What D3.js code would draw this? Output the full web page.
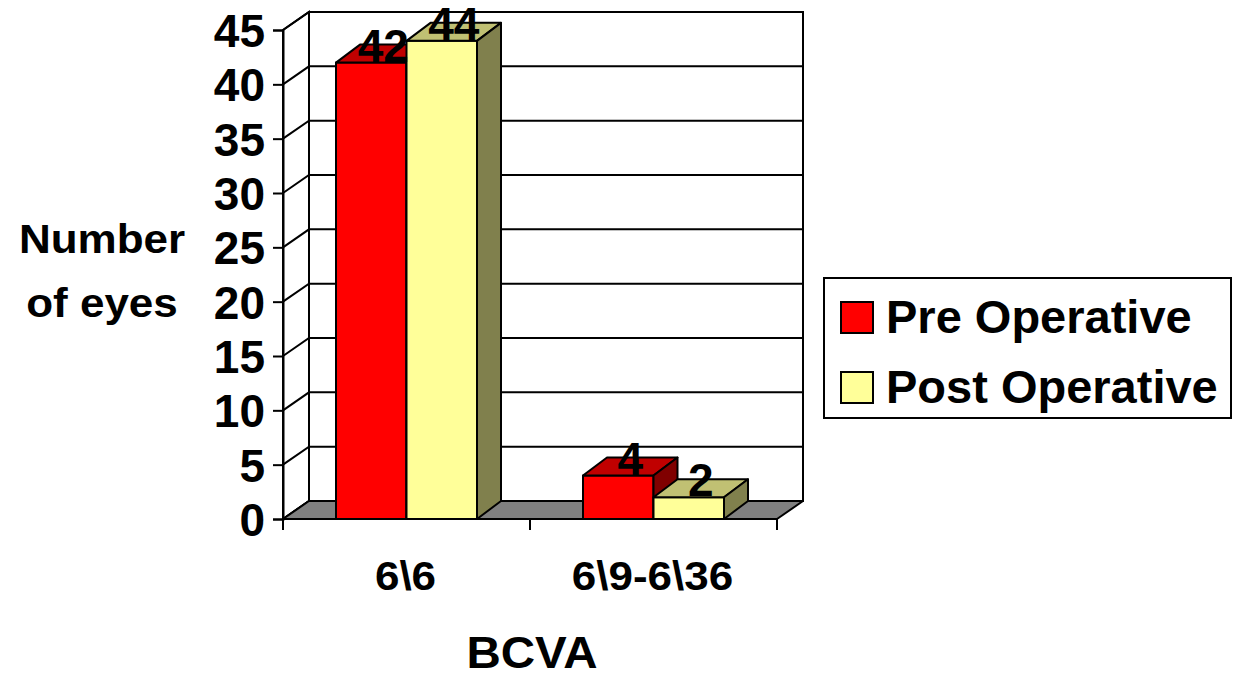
<!DOCTYPE html>
<html>
<head>
<meta charset="utf-8">
<script src="https://cdn.jsdelivr.net/npm/d3@7"></script>
<style>
  html, body { margin: 0; padding: 0; background: #fff; }
  svg { display: block; }
  text { font-family: "Liberation Sans", Arial, sans-serif; font-weight: bold; fill: #000; }
</style>
</head>
<body>
<svg id="chart" width="1233" height="677"></svg>
<script>
// BCVA categories and eye counts per series
const categories = ["6\\6", "6\\9-6\\36"];
const seriesNames = ["Pre Operative", "Post Operative"];
const preOperative = [42, 4];
const postOperative = [44, 2];
const yTicks = [0, 5, 10, 15, 20, 25, 30, 35, 40, 45];

const seriesValues = [preOperative, postOperative];
const palette = {
  "Pre Operative":  { front: "#ff0000", top: "#c00000", side: "#800000" },
  "Post Operative": { front: "#ffff99", top: "#c0c073", side: "#80804d" }
};

const svg = d3.select("#chart");

// plot frame (front plane) and depth offset of the 3D box
const left = 283, right = 777, bottom = 519, topY = 30;
const depth = { dx: 26, dy: -18 };
const barDepth = { dx: 24, dy: -18 };

const y = d3.scaleLinear().domain([0, 45]).range([bottom, topY]);
const x0 = d3.scaleBand().domain(categories).range([left, right]);
const gap = 53;
const x1 = d3.scaleBand().domain(seriesNames).range([gap, x0.bandwidth() - gap]);

const poly = pts => "M" + pts.map(p => p.join(",")).join("L") + "Z";

// walls
const walls = svg.append("g");
walls.append("path")
  .attr("d", poly([[left, y(0)], [left + depth.dx, y(0) + depth.dy], [left + depth.dx, y(45) + depth.dy], [left, y(45)]]))
  .attr("fill", "#fff").attr("stroke", "#000").attr("stroke-width", 2);
walls.append("rect")
  .attr("x", left + depth.dx).attr("y", y(45) + depth.dy)
  .attr("width", right - left).attr("height", y(0) - y(45))
  .attr("fill", "#fff").attr("stroke", "#000").attr("stroke-width", 2);

// gridlines along side wall and back wall
const grid = svg.append("g").attr("stroke", "#000").attr("stroke-width", 2).attr("fill", "none");
yTicks.forEach(t => {
  grid.append("path").attr("d", `M${left},${y(t)}L${left + depth.dx},${y(t) + depth.dy}L${right + depth.dx},${y(t) + depth.dy}`);
});

// floor
svg.append("path")
  .attr("d", poly([[left, y(0)], [right, y(0)], [right + depth.dx, y(0) + depth.dy], [left + depth.dx, y(0) + depth.dy]]))
  .attr("fill", "#808080").attr("stroke", "#000").attr("stroke-width", 2).attr("stroke-linejoin", "round");

// y axis
const yAxis = svg.append("g").attr("transform", `translate(${left},0)`)
  .call(d3.axisLeft(y).tickValues(yTicks).tickSize(10).tickPadding(8));
yAxis.select(".domain").attr("stroke", "#000").attr("stroke-width", 2);
yAxis.selectAll(".tick line").attr("stroke", "#000").attr("stroke-width", 2);
yAxis.selectAll(".tick text")
  .style("font-family", "'Liberation Sans', Arial, sans-serif")
  .style("font-weight", "bold")
  .attr("font-size", 46)
  .attr("fill", "#000")
  .attr("dy", "0.36em");

// x axis: ticks at category boundaries
const xAxisG = svg.append("g").attr("stroke", "#000").attr("stroke-width", 2);
xAxisG.append("line").attr("x1", left).attr("x2", right).attr("y1", bottom).attr("y2", bottom);
[left, ...categories.map(c => x0(c) + x0.bandwidth())].forEach(xv => {
  xAxisG.append("line").attr("x1", xv).attr("x2", xv).attr("y1", bottom).attr("y2", bottom + 11);
});

// bars
const bars = svg.append("g").attr("stroke", "#000").attr("stroke-width", 2).attr("stroke-linejoin", "round");
categories.forEach((c, ci) => {
  seriesNames.forEach((s, si) => {
    const v = seriesValues[si][ci];
    const xa = x0(c) + x1(s), xb = xa + x1.bandwidth();
    const yt = y(v), yb = y(0);
    const col = palette[s];
    bars.append("path").attr("fill", col.front)
      .attr("d", poly([[xa, yb], [xb, yb], [xb, yt], [xa, yt]]));
    bars.append("path").attr("fill", col.top)
      .attr("d", poly([[xa, yt], [xb, yt], [xb + barDepth.dx, yt + barDepth.dy], [xa + barDepth.dx, yt + barDepth.dy]]));
    bars.append("path").attr("fill", col.side)
      .attr("d", poly([[xb, yb], [xb + barDepth.dx, yb + barDepth.dy], [xb + barDepth.dx, yt + barDepth.dy], [xb, yt]]));
  });
});

// value labels
categories.forEach((c, ci) => {
  seriesNames.forEach((s, si) => {
    const v = seriesValues[si][ci];
    const cx = x0(c) + x1(s) + x1.bandwidth() / 2 + barDepth.dx / 2;
    svg.append("text")
      .attr("x", cx).attr("y", y(v) - 1)
      .attr("text-anchor", "middle").attr("font-size", 46)
      .text(v);
  });
});

// stretched text helper
function label(txt, xc, yb, size, sx) {
  svg.append("text")
    .attr("transform", `translate(${xc},${yb}) scale(${sx},1)`)
    .attr("text-anchor", "middle").attr("font-size", size)
    .text(txt);
}

// category labels
categories.forEach(c => label(c, x0(c) + x0.bandwidth() / 2 - 1, 590, 40, 1.1));

// axis titles
label("BCVA", 532, 668, 44, 1.08);
label("Number", 102, 253, 40, 1.1);
label("of eyes", 102, 317, 40, 1.1);

// legend
const legend = svg.append("g");
legend.append("rect").attr("x", 824).attr("y", 278).attr("width", 407).attr("height", 140)
  .attr("fill", "#fff").attr("stroke", "#000").attr("stroke-width", 2);
seriesNames.forEach((s, i) => {
  const yy = 302 + i * 70;
  legend.append("rect").attr("x", 841).attr("y", yy).attr("width", 32).attr("height", 31)
    .attr("fill", palette[s].front).attr("stroke", "#000").attr("stroke-width", 2);
  legend.append("text").attr("x", 886).attr("y", yy + 31).attr("font-size", 47).text(s);
});
</script>
</body>
</html>
